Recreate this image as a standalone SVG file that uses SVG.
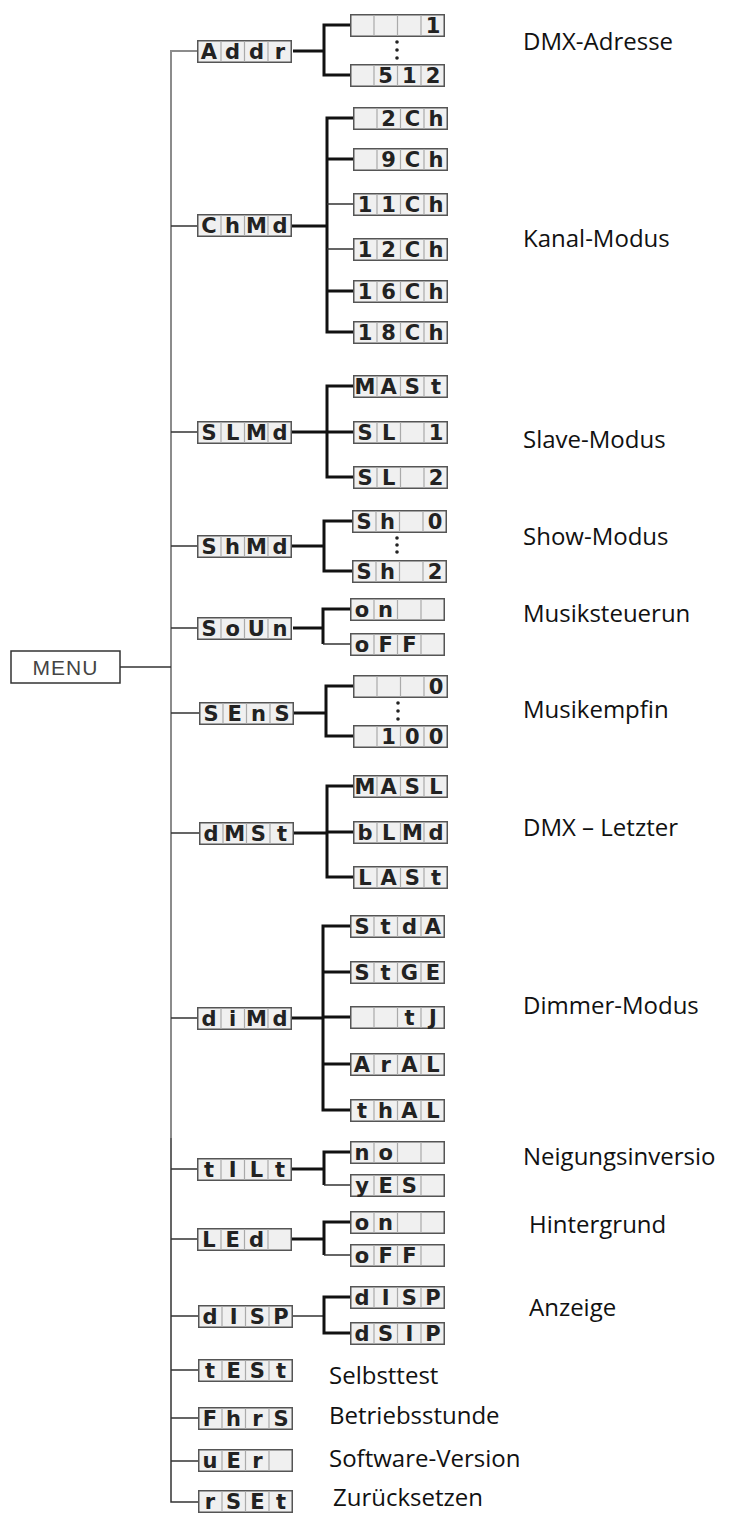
<svg xmlns="http://www.w3.org/2000/svg" xmlns:xlink="http://www.w3.org/1999/xlink" width="729" height="1514" viewBox="0 0 729 1514">
<style>
.c{font-family:"DejaVu Sans","Liberation Sans",sans-serif;font-weight:bold;font-size:21px;fill:#222;text-anchor:middle}
.lbl{font-family:"Open Sans","Liberation Sans",sans-serif;font-size:24px;fill:#111}
.thin{fill:none;stroke:#333;stroke-width:1.5}
.thick{fill:none;stroke:#111;stroke-width:3}
.gray{fill:none;stroke:#8c8c8c;stroke-width:2}
.dot{fill:#222}
</style>
<defs>
<symbol id="cells" viewBox="0 0 95 23" width="95" height="23">
<rect x="0.75" y="0.75" width="93.5" height="21.5" fill="#f0f0f0" stroke="#555" stroke-width="1.5"/>
<path d="M24 1V22M47.5 1V22M71 1V22" stroke="#aaa" stroke-width="1.2" fill="none"/>
</symbol>
</defs>
<rect width="729" height="1514" fill="#fff"/>

<g id="connectors">
<path class="gray" d="M197 51H171V1138"/>
<path class="thin" d="M171 1138V1502H198"/>
<path class="thin" d="M120 667H171"/>
<path class="thin" d="M171 226H197M171 432H197M171 546H197M171 628H197M171 713H199M171 833H199M171 1018H197M171 1169H197M171 1239H197M171 1316H198M171 1370H198M171 1418H198M171 1461H198"/>
<path class="thick" d="M293 51H324M350 25H324V75H350"/>
<path class="thick" d="M292 226H327M353 118H327V332H353M327 159H353M327 291H353"/>
<path class="thin" d="M327 204H353M327 249H353"/>
<path class="thick" d="M292 432H327M353 386H327V477H353M327 432H353"/>
<path class="thick" d="M292 546H324M352 521H324V571H352"/>
<path class="thick" d="M293 628H323M350 609H323V644"/>
<path class="thin" d="M323 644H350"/>
<path class="thick" d="M294 713H326M353 686H326V736H353"/>
<path class="thick" d="M294 833H327M353 786H327V877H353M327 832H353"/>
<path class="thick" d="M292 1018H323M350 926H323V1110H350M323 972H350M323 1017H350M323 1064H350"/>
<path class="thick" d="M292 1169H324M350 1152H324V1185"/>
<path class="thin" d="M324 1185H350"/>
<path class="thick" d="M292 1239H324M350 1222H324V1255"/>
<path class="thin" d="M324 1255H350"/>
<path class="thin" d="M293 1316H324"/>
<path class="thick" d="M350 1297H324V1333H350"/>
<circle class="dot" cx="397" cy="42" r="1.8"/><circle class="dot" cx="397" cy="50" r="1.8"/><circle class="dot" cx="397" cy="58" r="1.8"/>
<circle class="dot" cx="397" cy="538" r="1.8"/><circle class="dot" cx="397" cy="545" r="1.8"/><circle class="dot" cx="397" cy="552" r="1.8"/>
<circle class="dot" cx="398" cy="703" r="1.8"/><circle class="dot" cx="398" cy="711" r="1.8"/><circle class="dot" cx="398" cy="719" r="1.8"/>
</g>

<g id="menu">
<rect x="11" y="651" width="109" height="32" fill="#fff" stroke="#333" stroke-width="1.5"/>
<text x="65.5" y="675" font-family="Liberation Sans, Arial, sans-serif" font-size="21" fill="#444" text-anchor="middle" letter-spacing="1">MENU</text>
</g>

<g id="addr" transform="translate(197,40)"><use xlink:href="#cells"/><text class="c" x="12 35.6 59.4 83" y="19">Addr</text></g>
<g id="addr-1" transform="translate(350,14)"><use xlink:href="#cells"/><text class="c" x="12 35.6 59.4 83" y="19">&#160;&#160;&#160;1</text></g>
<g id="addr-512" transform="translate(350,64)"><use xlink:href="#cells"/><text class="c" x="12 35.6 59.4 83" y="19">&#160;512</text></g>

<g id="chmd" transform="translate(197,214)"><use xlink:href="#cells"/><text class="c" x="12 35.6 59.4 83" y="19">ChMd</text></g>
<g id="ch2" transform="translate(353,107)"><use xlink:href="#cells"/><text class="c" x="12 35.6 59.4 83" y="19">&#160;2Ch</text></g>
<g id="ch9" transform="translate(353,148)"><use xlink:href="#cells"/><text class="c" x="12 35.6 59.4 83" y="19">&#160;9Ch</text></g>
<g id="ch11" transform="translate(353,193)"><use xlink:href="#cells"/><text class="c" x="12 35.6 59.4 83" y="19">11Ch</text></g>
<g id="ch12" transform="translate(353,238)"><use xlink:href="#cells"/><text class="c" x="12 35.6 59.4 83" y="19">12Ch</text></g>
<g id="ch16" transform="translate(353,280)"><use xlink:href="#cells"/><text class="c" x="12 35.6 59.4 83" y="19">16Ch</text></g>
<g id="ch18" transform="translate(353,321)"><use xlink:href="#cells"/><text class="c" x="12 35.6 59.4 83" y="19">18Ch</text></g>

<g id="slmd" transform="translate(197,421)"><use xlink:href="#cells"/><text class="c" x="12 35.6 59.4 83" y="19">SLMd</text></g>
<g id="mast" transform="translate(353,375)"><use xlink:href="#cells"/><text class="c" x="12 35.6 59.4 83" y="19">MASt</text></g>
<g id="sl1" transform="translate(353,421)"><use xlink:href="#cells"/><text class="c" x="12 35.6 59.4 83" y="19">SL&#160;1</text></g>
<g id="sl2" transform="translate(353,466)"><use xlink:href="#cells"/><text class="c" x="12 35.6 59.4 83" y="19">SL&#160;2</text></g>

<g id="shmd" transform="translate(197,535)"><use xlink:href="#cells"/><text class="c" x="12 35.6 59.4 83" y="19">ShMd</text></g>
<g id="sh0" transform="translate(352,510)"><use xlink:href="#cells"/><text class="c" x="12 35.6 59.4 83" y="19">Sh&#160;0</text></g>
<g id="sh2" transform="translate(352,560)"><use xlink:href="#cells"/><text class="c" x="12 35.6 59.4 83" y="19">Sh&#160;2</text></g>

<g id="soun" transform="translate(197,617)"><use xlink:href="#cells"/><text class="c" x="12 35.6 59.4 83" y="19">SoUn</text></g>
<g id="soun-on" transform="translate(350,598)"><use xlink:href="#cells"/><text class="c" x="12 35.6 59.4 83" y="19">on&#160;&#160;</text></g>
<g id="soun-off" transform="translate(350,633)"><use xlink:href="#cells"/><text class="c" x="12 35.6 59.4 83" y="19">oFF&#160;</text></g>

<g id="sens" transform="translate(199,702)"><use xlink:href="#cells"/><text class="c" x="12 35.6 59.4 83" y="19">SEnS</text></g>
<g id="sens-0" transform="translate(353,675)"><use xlink:href="#cells"/><text class="c" x="12 35.6 59.4 83" y="19">&#160;&#160;&#160;0</text></g>
<g id="sens-100" transform="translate(353,725)"><use xlink:href="#cells"/><text class="c" x="12 35.6 59.4 83" y="19">&#160;100</text></g>

<g id="dmst" transform="translate(199,822)"><use xlink:href="#cells"/><text class="c" x="12 35.6 59.4 83" y="19">dMSt</text></g>
<g id="masl" transform="translate(353,775)"><use xlink:href="#cells"/><text class="c" x="12 35.6 59.4 83" y="19">MASL</text></g>
<g id="blmd" transform="translate(353,821)"><use xlink:href="#cells"/><text class="c" x="12 35.6 59.4 83" y="19">bLMd</text></g>
<g id="last" transform="translate(353,866)"><use xlink:href="#cells"/><text class="c" x="12 35.6 59.4 83" y="19">LASt</text></g>

<g id="dimd" transform="translate(197,1007)"><use xlink:href="#cells"/><text class="c" x="12 35.6 59.4 83" y="19">diMd</text></g>
<g id="stda" transform="translate(350,915)"><use xlink:href="#cells"/><text class="c" x="12 35.6 59.4 83" y="19">StdA</text></g>
<g id="stge" transform="translate(350,961)"><use xlink:href="#cells"/><text class="c" x="12 35.6 59.4 83" y="19">StGE</text></g>
<g id="tj" transform="translate(350,1006)"><use xlink:href="#cells"/><text class="c" x="12 35.6 59.4 83" y="19">&#160;&#160;tJ</text></g>
<g id="aral" transform="translate(350,1053)"><use xlink:href="#cells"/><text class="c" x="12 35.6 59.4 83" y="19">ArAL</text></g>
<g id="thal" transform="translate(350,1099)"><use xlink:href="#cells"/><text class="c" x="12 35.6 59.4 83" y="19">thAL</text></g>

<g id="tilt" transform="translate(197,1158)"><use xlink:href="#cells"/><text class="c" x="12 35.6 59.4 83" y="19">tILt</text></g>
<g id="tilt-no" transform="translate(350,1141)"><use xlink:href="#cells"/><text class="c" x="12 35.6 59.4 83" y="19">no&#160;&#160;</text></g>
<g id="tilt-yes" transform="translate(350,1174)"><use xlink:href="#cells"/><text class="c" x="12 35.6 59.4 83" y="19">yES&#160;</text></g>

<g id="led" transform="translate(197,1228)"><use xlink:href="#cells"/><text class="c" x="12 35.6 59.4 83" y="19">LEd&#160;</text></g>
<g id="led-on" transform="translate(350,1211)"><use xlink:href="#cells"/><text class="c" x="12 35.6 59.4 83" y="19">on&#160;&#160;</text></g>
<g id="led-off" transform="translate(350,1244)"><use xlink:href="#cells"/><text class="c" x="12 35.6 59.4 83" y="19">oFF&#160;</text></g>

<g id="disp" transform="translate(198,1305)"><use xlink:href="#cells"/><text class="c" x="12 35.6 59.4 83" y="19">dISP</text></g>
<g id="disp-1" transform="translate(350,1286)"><use xlink:href="#cells"/><text class="c" x="12 35.6 59.4 83" y="19">dISP</text></g>
<g id="disp-2" transform="translate(350,1322)"><use xlink:href="#cells"/><text class="c" x="12 35.6 59.4 83" y="19">dSIP</text></g>

<g id="test" transform="translate(198,1359)"><use xlink:href="#cells"/><text class="c" x="12 35.6 59.4 83" y="19">tESt</text></g>
<g id="fhrs" transform="translate(198,1407)"><use xlink:href="#cells"/><text class="c" x="12 35.6 59.4 83" y="19">FhrS</text></g>
<g id="ver" transform="translate(198,1449)"><use xlink:href="#cells"/><text class="c" x="12 35.6 59.4 83" y="19">uEr&#160;</text></g>
<g id="rset" transform="translate(198,1490)"><use xlink:href="#cells"/><text class="c" x="12 35.6 59.4 83" y="19">rSEt</text></g>

<g id="labels">
<text class="lbl" x="523" y="50">DMX-Adresse</text>
<text class="lbl" x="523" y="247">Kanal-Modus</text>
<text class="lbl" x="523" y="448">Slave-Modus</text>
<text class="lbl" x="523" y="545">Show-Modus</text>
<text class="lbl" x="523" y="622">Musiksteuerun</text>
<text class="lbl" x="523" y="718">Musikempfin</text>
<text class="lbl" x="523" y="836">DMX – Letzter</text>
<text class="lbl" x="523" y="1014">Dimmer-Modus</text>
<text class="lbl" x="523" y="1165">Neigungsinversio</text>
<text class="lbl" x="529" y="1233">Hintergrund</text>
<text class="lbl" x="529" y="1316">Anzeige</text>
<text class="lbl" x="329" y="1384">Selbsttest</text>
<text class="lbl" x="329" y="1424">Betriebsstunde</text>
<text class="lbl" x="329" y="1467">Software-Version</text>
<text class="lbl" x="333" y="1506">Zurücksetzen</text>
</g>
</svg>
